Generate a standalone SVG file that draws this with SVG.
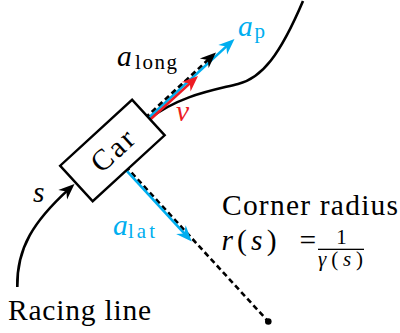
<svg xmlns="http://www.w3.org/2000/svg" width="400" height="333" viewBox="0 0 400 333">
<style>
.s{font-size:21px}
.it{font-style:italic}
.ln{fill:none;stroke-width:2.6}
.k{stroke:#000}
.b{stroke:#00AEEF}
.r{stroke:#ED1C24}
.d{stroke-dasharray:5.5 3.5}
</style>
<defs>
<marker id="ak" markerUnits="userSpaceOnUse" viewBox="-17 -8 18 16" markerWidth="18" markerHeight="16" refX="-8" refY="0" orient="auto"><path d="M0,0 L-16,-6.5 L-11,0 L-16,6.5 Z" fill="#000" stroke="none"/></marker>
<marker id="ab" markerUnits="userSpaceOnUse" viewBox="-17 -8 18 16" markerWidth="18" markerHeight="16" refX="-8" refY="0" orient="auto"><path d="M0,0 L-16,-6.5 L-11,0 L-16,6.5 Z" fill="#00AEEF" stroke="none"/></marker>
<marker id="ar" markerUnits="userSpaceOnUse" viewBox="-17 -8 18 16" markerWidth="18" markerHeight="16" refX="-8" refY="0" orient="auto"><path d="M0,0 L-16,-6.5 L-11,0 L-16,6.5 Z" fill="#ED1C24" stroke="none"/></marker>
</defs>
<rect width="400" height="333" fill="#fff"/>
<g id="connectors">
<path id="racing-line-in" class="ln k" d="M17.3,287 C16.5,248 34,221 68.6,189.4" marker-end="url(#ak)"/>
<path id="racing-line-out" class="ln k" d="M148.3,119.5 C180,95 215,90 238,84 C262,78 280,55 303,1"/>
<path id="radius" class="ln k d" d="M125.5,166.1 L268.3,321.5"/>
<circle cx="268.3" cy="321.5" r="3.3" fill="#000"/>
<path id="a-lat" class="ln b" d="M123.8,167.6 L186.3,235.6" marker-end="url(#ab)"/>
<path id="a-p" class="ln b" d="M146.6,119.7 L228.6,44.4" marker-end="url(#ab)"/>
<path id="a-long" class="ln k d" d="M145.1,118 L210.1,57.9" marker-end="url(#ak)"/>
<path id="v" class="ln r" d="M148.1,121.5 L192.1,81.4" marker-end="url(#ar)"/>
</g>
<g font-family="Liberation Serif, serif" font-size="29.5" fill="#000">
<g id="car" transform="translate(112.4,150.5) rotate(-42.5)">
<rect x="-48.8" y="-24.1" width="97.6" height="48.2" fill="#fff" stroke="#000" stroke-width="2.4"/>
<text x="0" y="10" text-anchor="middle" textLength="48">Car</text>
</g>
<g id="label-along"><text class="it" x="117" y="66">a</text><text class="s" x="135" y="68.5" textLength="42">long</text></g>
<g id="label-ap" fill="#00AEEF"><text class="it" x="238" y="35.5">a</text><text class="s" x="254.5" y="37.5">p</text></g>
<g id="label-v"><text class="it" fill="#ED1C24" x="176" y="121">v</text></g>
<g id="label-s"><text class="it" x="33" y="201.5">s</text></g>
<g id="label-alat" fill="#00AEEF"><text class="it" x="113" y="235">a</text><text class="s" x="128" y="237.5" textLength="27">lat</text></g>
<g id="label-racing-line"><text x="8" y="320" textLength="143">Racing line</text></g>
<g id="label-corner-radius">
<text x="222" y="215" textLength="176">Corner radius</text>
<text x="221.5" y="250" textLength="55"><tspan class="it">r</tspan>(<tspan class="it">s</tspan>)</text>
<text x="299.5" y="250">=</text>
<text class="s" x="341.5" y="243.5" text-anchor="middle">1</text>
<rect x="318" y="248.7" width="46" height="1.3" fill="#000"/>
<text class="s" x="318" y="266" textLength="45"><tspan class="it">γ</tspan>(<tspan class="it">s</tspan>)</text>
</g>
</g>
</svg>
